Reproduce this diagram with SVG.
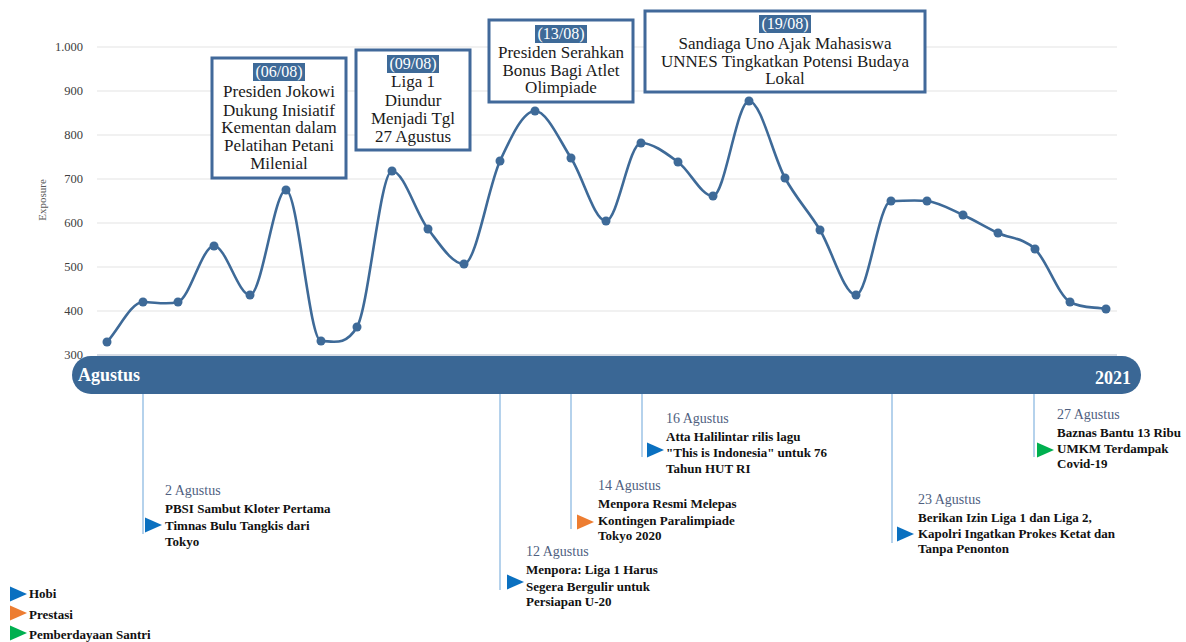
<svg xmlns="http://www.w3.org/2000/svg" width="1186" height="642" viewBox="0 0 1186 642">
<style>
.grid{stroke:#e3e3e3;stroke-width:1}
.ylab{font-family:"Liberation Serif",serif;font-size:12.5px;fill:#404040;text-anchor:end}
.curve{fill:none;stroke:#3e6a98;stroke-width:2.6}
.pt{fill:#3e6a98}
.box{fill:#fff;stroke:#41699a;stroke-width:3}
.bt{font-family:"Liberation Serif",serif;font-size:17px;fill:#1a1a1a;text-anchor:middle}
.hl{fill:#3e6a98}
.ht{font-family:"Liberation Serif",serif;font-size:16px;fill:#fff;text-anchor:middle}
.vl{stroke:#9dc3e6;stroke-width:1.5}
.date{font-family:"Liberation Serif",serif;font-size:14px;fill:#4f5f7f}
.ev{font-family:"Liberation Serif",serif;font-size:13px;font-weight:bold;fill:#111}
.blue{fill:#0a70c0}.orange{fill:#ed7d31}.green{fill:#00b050}
</style>
<defs>
<polygon id="tri" points="0,-7.5 17,0 0,7.5"/>
</defs>
<g id="grid">
<line class="grid" x1="97" y1="47" x2="1117" y2="47"/>
<line class="grid" x1="97" y1="91" x2="1117" y2="91"/>
<line class="grid" x1="97" y1="135" x2="1117" y2="135"/>
<line class="grid" x1="97" y1="179" x2="1117" y2="179"/>
<line class="grid" x1="97" y1="223" x2="1117" y2="223"/>
<line class="grid" x1="97" y1="267" x2="1117" y2="267"/>
<line class="grid" x1="97" y1="311" x2="1117" y2="311"/>
<line x1="97" y1="355" x2="1117" y2="355" stroke="#d6dce5" stroke-width="2"/>
</g>
<g id="yaxis">
<text class="ylab" x="83" y="51">1.000</text>
<text class="ylab" x="83" y="95">900</text>
<text class="ylab" x="83" y="139">800</text>
<text class="ylab" x="83" y="183">700</text>
<text class="ylab" x="83" y="227">600</text>
<text class="ylab" x="83" y="271">500</text>
<text class="ylab" x="83" y="315">400</text>
<text class="ylab" x="83" y="359">300</text>
<text x="46" y="200" transform="rotate(-90 46 200)" text-anchor="middle" font-family="Liberation Serif, serif" font-size="11" fill="#595959">Exposure</text>
</g>
<g id="series">
<path class="curve" d="M107,342 C119,328.7 131.2,302 143,302 C154.8,302 166.2,305.3 178,302 C189.8,298.7 202,246 214,246 C226,246 238,295 250,295 C262,295 274.2,190 286,190 C297.8,190 309.2,341 321,341 C332.8,341 345.2,347 357,327 C368.8,307 380.2,171 392,171 C403.8,171 416,213.5 428,229 C440,244.5 452,264 464,264 C476,264 488.2,186.5 500,161 C511.8,135.5 523.2,111 535,111 C546.8,111 559.2,139.7 571,158 C582.8,176.3 594.3,221 606,221 C617.7,221 629,143 641,143 C653,143 666,153.2 678,162 C690,170.8 701.2,196 713,196 C724.8,196 737,101 749,101 C761,101 773.2,156.5 785,178 C796.8,199.5 808.2,210.5 820,230 C831.8,249.5 844.2,295 856,295 C867.8,295 879.2,201 891,201 C902.8,201 915,199.7 927,201 C939,202.3 951.2,209.7 963,215 C974.8,220.3 986,227.3 998,233 C1010,238.7 1023,237.5 1035,249 C1047,260.5 1058.2,295.3 1070,302 C1081.8,308.7 1094,306.7 1106,309"/>
<g class="pt">
<circle cx="107" cy="342" r="4.5"/><circle cx="143" cy="302" r="4.5"/><circle cx="178" cy="302" r="4.5"/><circle cx="214" cy="246" r="4.5"/><circle cx="250" cy="295" r="4.5"/><circle cx="286" cy="190" r="4.5"/><circle cx="321" cy="341" r="4.5"/><circle cx="357" cy="327" r="4.5"/><circle cx="392" cy="171" r="4.5"/><circle cx="428" cy="229" r="4.5"/><circle cx="464" cy="264" r="4.5"/><circle cx="500" cy="161" r="4.5"/><circle cx="535" cy="111" r="4.5"/><circle cx="571" cy="158" r="4.5"/><circle cx="606" cy="221" r="4.5"/><circle cx="641" cy="143" r="4.5"/><circle cx="678" cy="162" r="4.5"/><circle cx="713" cy="196" r="4.5"/><circle cx="749" cy="101" r="4.5"/><circle cx="785" cy="178" r="4.5"/><circle cx="820" cy="230" r="4.5"/><circle cx="856" cy="295" r="4.5"/><circle cx="891" cy="201" r="4.5"/><circle cx="927" cy="201" r="4.5"/><circle cx="963" cy="215" r="4.5"/><circle cx="998" cy="233" r="4.5"/><circle cx="1035" cy="249" r="4.5"/><circle cx="1070" cy="302" r="4.5"/><circle cx="1106" cy="309" r="4.5"/>
</g>
</g>
<g id="callout-0608">
<rect class="box" x="212" y="58" width="134" height="120"/>
<rect class="hl" x="253" y="63" width="52" height="18"/>
<text class="ht" x="279" y="77">(06/08)</text>
<text class="bt" x="279" y="97">Presiden Jokowi</text>
<text class="bt" x="279" y="115.5">Dukung Inisiatif</text>
<text class="bt" x="279" y="133">Kementan dalam</text>
<text class="bt" x="279" y="151">Pelatihan Petani</text>
<text class="bt" x="279" y="169">Milenial</text>
</g>
<g id="callout-0908">
<rect class="box" x="356" y="50" width="114" height="100"/>
<rect class="hl" x="387" y="55" width="52" height="18"/>
<text class="ht" x="413" y="69">(09/08)</text>
<text class="bt" x="413" y="87">Liga 1</text>
<text class="bt" x="413" y="105.5">Diundur</text>
<text class="bt" x="413" y="124">Menjadi Tgl</text>
<text class="bt" x="413" y="142">27 Agustus</text>
</g>
<g id="callout-1308">
<rect class="box" x="489" y="20" width="144" height="82"/>
<rect class="hl" x="535" y="25" width="52" height="18"/>
<text class="ht" x="561" y="39">(13/08)</text>
<text class="bt" x="561" y="58">Presiden Serahkan</text>
<text class="bt" x="561" y="75.5">Bonus Bagi Atlet</text>
<text class="bt" x="561" y="92.5">Olimpiade</text>
</g>
<g id="callout-1908">
<rect class="box" x="645" y="11" width="280" height="81"/>
<rect class="hl" x="759" y="15" width="52" height="18"/>
<text class="ht" x="785" y="29">(19/08)</text>
<text class="bt" x="785" y="49">Sandiaga Uno Ajak Mahasiswa</text>
<text class="bt" x="785" y="66.5">UNNES Tingkatkan Potensi Budaya</text>
<text class="bt" x="785" y="83.5">Lokal</text>
</g>
<g id="timeline-bar">
<rect x="72" y="356" width="1069" height="38" rx="19" fill="#3a6795"/>
<text x="78" y="381" font-family="Liberation Serif, serif" font-size="18" font-weight="bold" fill="#fff">Agustus</text>
<text x="1131" y="384" text-anchor="end" font-family="Liberation Serif, serif" font-size="18" font-weight="bold" fill="#fff">2021</text>
</g>
<g id="connectors">
<line class="vl" x1="143" y1="394" x2="143" y2="534"/>
<line class="vl" x1="500" y1="394" x2="500" y2="590"/>
<line class="vl" x1="571" y1="394" x2="571" y2="529"/>
<line class="vl" x1="642" y1="394" x2="642" y2="457"/>
<line class="vl" x1="892" y1="394" x2="892" y2="543"/>
<line class="vl" x1="1034" y1="394" x2="1034" y2="457"/>
</g>
<g id="event-02">
<use href="#tri" class="blue" x="145" y="525"/>
<text class="date" x="165" y="495">2 Agustus</text>
<text class="ev" x="165" y="513">PBSI Sambut Kloter Pertama</text>
<text class="ev" x="165" y="529.5">Timnas Bulu Tangkis dari</text>
<text class="ev" x="165" y="546">Tokyo</text>
</g>
<g id="event-12">
<use href="#tri" class="blue" x="507" y="582"/>
<text class="date" x="526" y="556">12 Agustus</text>
<text class="ev" x="526" y="574">Menpora: Liga 1 Harus</text>
<text class="ev" x="526" y="590.5">Segera Bergulir untuk</text>
<text class="ev" x="526" y="606">Persiapan U-20</text>
</g>
<g id="event-14">
<use href="#tri" class="orange" x="577" y="522"/>
<text class="date" x="598" y="490">14 Agustus</text>
<text class="ev" x="598" y="508">Menpora Resmi Melepas</text>
<text class="ev" x="598" y="524.5">Kontingen Paralimpiade</text>
<text class="ev" x="598" y="540">Tokyo 2020</text>
</g>
<g id="event-16">
<use href="#tri" class="blue" x="647" y="450"/>
<text class="date" x="666" y="423">16 Agustus</text>
<text class="ev" x="666" y="441">Atta Halilintar rilis lagu</text>
<text class="ev" x="666" y="457">"This is Indonesia" untuk 76</text>
<text class="ev" x="666" y="473">Tahun HUT RI</text>
</g>
<g id="event-23">
<use href="#tri" class="blue" x="897" y="534"/>
<text class="date" x="918" y="504">23 Agustus</text>
<text class="ev" x="918" y="522">Berikan Izin Liga 1 dan Liga 2,</text>
<text class="ev" x="918" y="538">Kapolri Ingatkan Prokes Ketat dan</text>
<text class="ev" x="918" y="553">Tanpa Penonton</text>
</g>
<g id="event-27">
<use href="#tri" class="green" x="1037" y="450"/>
<text class="date" x="1057" y="419">27 Agustus</text>
<text class="ev" x="1057" y="437">Baznas Bantu 13 Ribu</text>
<text class="ev" x="1057" y="453">UMKM Terdampak</text>
<text class="ev" x="1057" y="468">Covid-19</text>
</g>
<g id="legend">
<use href="#tri" class="blue" x="10" y="594"/>
<text class="ev" x="29" y="598">Hobi</text>
<use href="#tri" class="orange" x="10" y="613"/>
<text class="ev" x="29" y="619">Prestasi</text>
<use href="#tri" class="green" x="10" y="633"/>
<text class="ev" x="29" y="639">Pemberdayaan Santri</text>
</g>
</svg>
